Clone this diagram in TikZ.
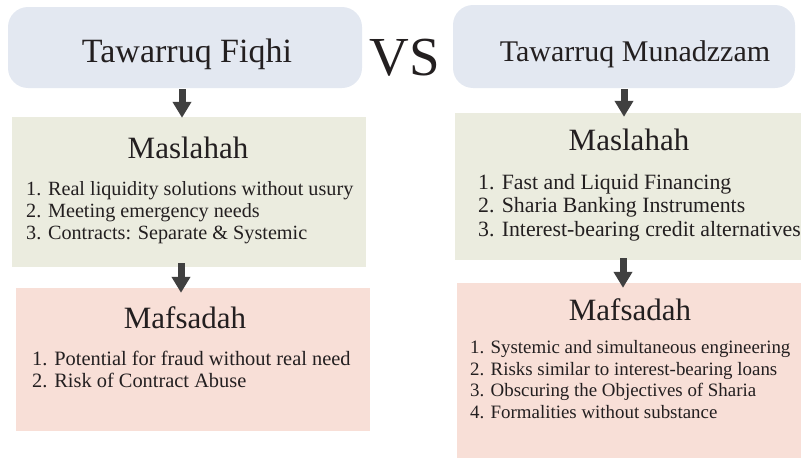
\documentclass[tikz,border=0pt]{standalone}
\usepackage{fontspec}
\setmainfont{Liberation Serif}
\usetikzlibrary{positioning,arrows.meta}
\definecolor{headfill}{HTML}{E3E8F1}
\definecolor{goodfill}{HTML}{EBECDF}
\definecolor{badfill}{HTML}{F8DFD7}
\definecolor{arrowink}{HTML}{404040}
\definecolor{textink}{HTML}{231F20}
\tikzset{
  headbox/.style={rounded corners=20pt,fill=headfill,inner sep=0pt},
  goodbox/.style={fill=goodfill,inner sep=0pt},
  badbox/.style={fill=badfill,inner sep=0pt},
  headtitle/.style={inner sep=0pt,anchor=base},
  boxtitle/.style={font=\fontsize{31}{34}\selectfont,inner sep=0pt,anchor=base},
  itemlist/.style={align=left,inner sep=0pt,anchor=north west},
  blockarrow/.style={line width=7pt,arrowink,-{Triangle[width=18pt,length=16pt]}}
}

\begin{document}
\begin{tikzpicture}[x=1pt,y=-1pt,text=textink]
\useasboundingbox (0,0) rectangle (801,458);

% headers
\node[headbox,minimum width=354pt,minimum height=81pt] (fiqhi) at (185,47.5) {};
\node[headbox,minimum width=342pt,minimum height=83pt] (munad) at (624,46.5) {};
\node[headtitle,font=\fontsize{34}{38}\selectfont] (fiqhiT) at (187,62) {Tawarruq Fiqhi};
\node[headtitle,font=\fontsize{30}{34}\selectfont] (munadT) at (635,61) {Tawarruq Munadzzam};
\node[headtitle,font=\fontsize{55}{60}\selectfont] (vs) at (405,75) {VS};

% left column
\node[goodbox,minimum width=354pt,minimum height=150pt] (masL) at (189,192) {};
\node[boxtitle] (masLT) at (188,158) {Maslahah};
\node[itemlist,font=\fontsize{20.2}{22.3}\selectfont] (masLlist) at (26,181)
  {1. Real liquidity solutions without usury\\
   2. Meeting emergency needs\\
   3. Contracts: Separate \& Systemic};

\node[badbox,minimum width=354pt,minimum height=143pt] (mafL) at (193,359.5) {};
\node[boxtitle] (mafLT) at (185,328) {Mafsadah};
\node[itemlist,font=\fontsize{20.4}{22.2}\selectfont] (mafLlist) at (32,351)
  {1. Potential for fraud without real need\\
   2. Risk of Contract Abuse};

% right column
\node[goodbox,minimum width=346pt,minimum height=147pt] (masR) at (628,186.5) {};
\node[boxtitle] (masRT) at (629,150) {Maslahah};
\node[itemlist,font=\fontsize{21.8}{23.5}\selectfont] (masRlist) at (478,174)
  {1. Fast and Liquid Financing\\
   2. Sharia Banking Instruments\\
   3. Interest-bearing credit alternatives};

\node[badbox,minimum width=344pt,minimum height=175pt] (mafR) at (629,370.5) {};
\node[boxtitle] (mafRT) at (630,320) {Mafsadah};
\node[itemlist,font=\fontsize{18.9}{21.7}\selectfont] (mafRlist) at (470,340)
  {1. Systemic and simultaneous engineering\\
   2. Risks similar to interest-bearing loans\\
   3. Obscuring the Objectives of Sharia\\
   4. Formalities without substance};

% arrows
\draw[blockarrow] ([xshift=-3pt,yshift=-1pt]fiqhi.south) -- ([xshift=-7pt,yshift=-1pt]masL.north);
\draw[blockarrow] ([xshift=-8pt,yshift=4pt]masL.south) -- ([xshift=-12pt,yshift=-5pt]mafL.north);
\draw[blockarrow] ([yshift=-1pt]munad.south) -- ([xshift=-4pt,yshift=-4pt]masR.north);
\draw[blockarrow] ([xshift=-5pt,yshift=2pt]masR.south) -- ([xshift=-6pt,yshift=-5pt]mafR.north);
\end{tikzpicture}
\end{document}
